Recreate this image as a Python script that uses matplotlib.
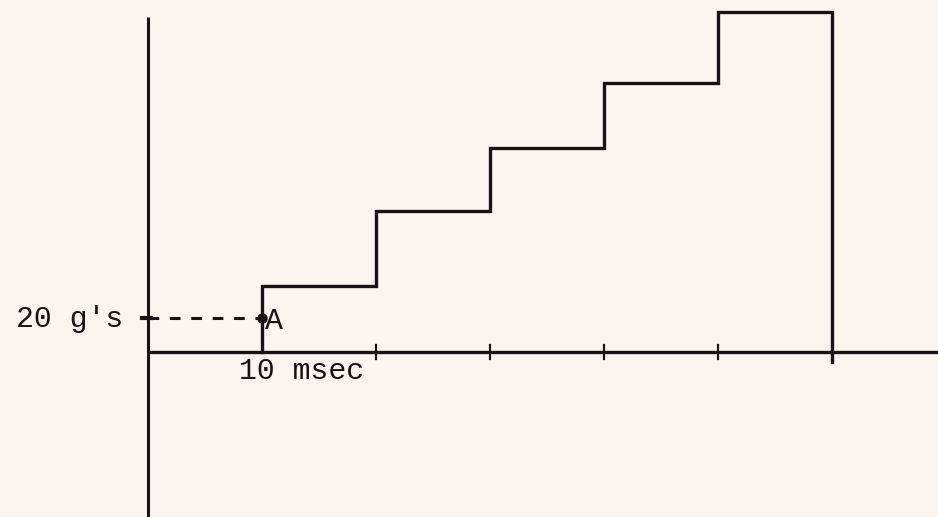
import matplotlib.pyplot as plt

# step levels (g's) and the time marks (msec)
step_starts = [10, 20, 30, 40, 50]
step_levels = [39, 83, 120, 158, 200]
step_end = 60
tick_times = [20, 30, 40, 50, 60]
point_a = (10, 20)

bg = '#fbf4ef'
ink = '#1a1114'

fig = plt.figure(figsize=(9.38, 5.17), dpi=100, facecolor=bg)
ax = fig.add_axes([0, 0, 1, 1])
ax.set_facecolor(bg)
ax.set_xlim(-12.98, 69.3)
ax.set_ylim(-97.1, 207.1)
ax.axis('off')

# axes drawn by hand, like the original sketch
ax.plot([0, 0], [-97.1, 197], color=ink, lw=2.2, solid_capstyle='butt')
ax.plot([0, 69.3], [0, 0], color=ink, lw=2.4, solid_capstyle='butt')

# staircase
xs = [step_starts[0]]
ys = [0]
for x, level in zip(step_starts, step_levels):
    xs += [x, x]
    ys += [ys[-1], level]
xs += [step_end, step_end]
ys += [step_levels[-1], -6]
ax.plot(xs[1:], ys[1:], color=ink, lw=2.4, solid_joinstyle='miter')

# small tick marks on the time axis
for t in tick_times[:-1]:
    ax.plot([t, t], [-4, 4], color=ink, lw=1.6)

# dashed line to point A and tick on the vertical axis
ax.plot([0, point_a[0]], [point_a[1], point_a[1]], color=ink, lw=2.2,
        dashes=(3.5, 3.5))
ax.plot([-0.5, 0.3], [point_a[1], point_a[1]], color=ink, lw=3)
ax.plot(*point_a, 'o', color=ink, ms=6.5)

font = dict(family='Liberation Mono', fontsize=21.5, color=ink)
ax.text(-2.2, point_a[1] - 0.5, "20 g's", ha='right', va='center', **font)
ax.text(point_a[0] + 0.3, point_a[1] - 2, 'A', ha='left', va='center', **font)
ax.text(8.0, -3, '10 msec', ha='left', va='top', **font)

fig.savefig('out.png', dpi=100, facecolor=bg)
